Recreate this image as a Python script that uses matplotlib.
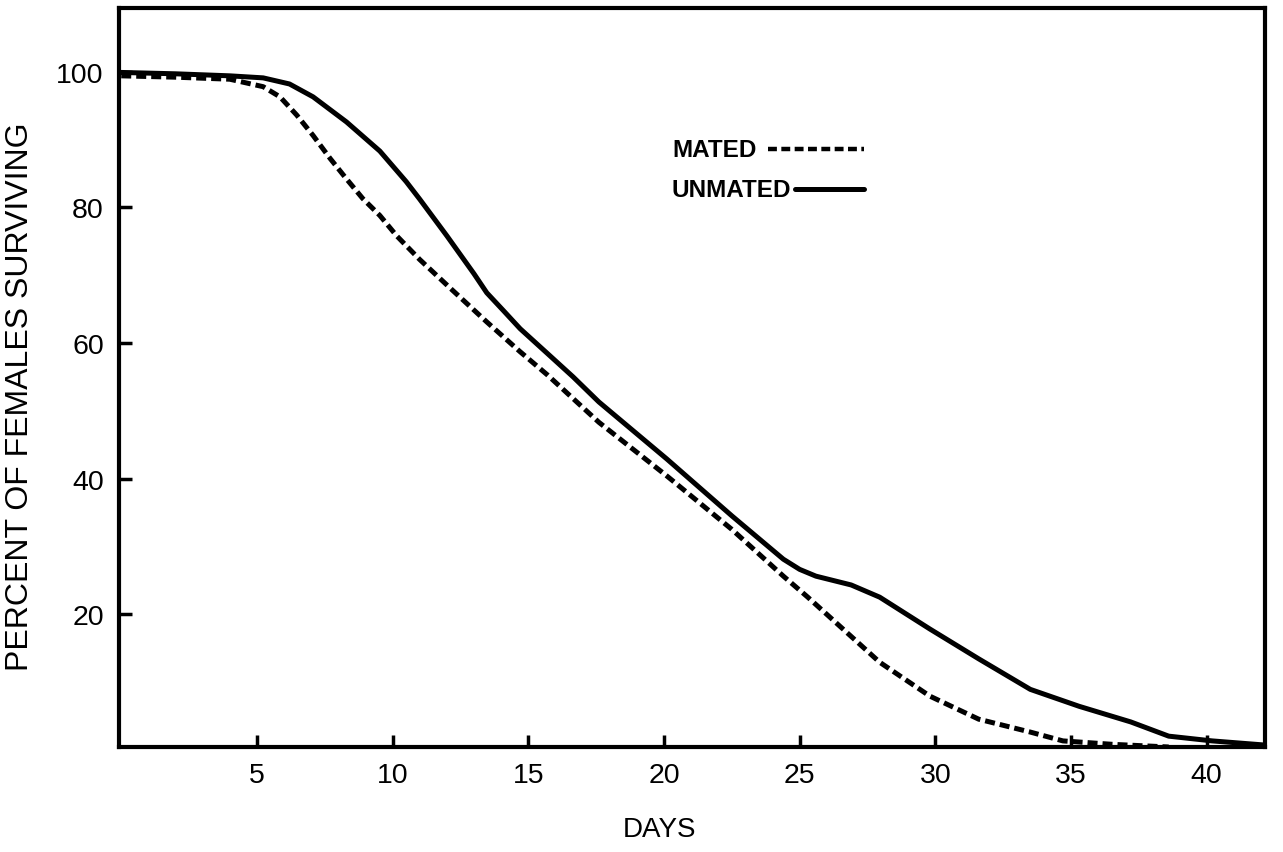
import matplotlib
matplotlib.use("Agg")
import matplotlib.pyplot as plt

# ---- data ----
days_mated = [0, 2, 4.0, 5.23, 5.85, 6.47, 7.07, 7.7, 8.3, 8.9, 9.53, 10.15, 11.0,
              12.2, 13.47, 14.7, 15.7, 17.6, 20.1, 22.5, 24.4, 25.3, 27.95, 29.8,
              31.6, 33.5, 34.7, 36.5, 38.6]
pct_mated = [99.4, 99.2, 98.9, 97.8, 96.3, 93.6, 90.6, 87.2, 84.2, 81.3, 78.8, 75.8,
             72.3, 67.8, 63.1, 58.7, 55.3, 48.3, 40.4, 32.5, 25.6, 22.5, 12.9, 7.9,
             4.5, 2.6, 1.3, 0.8, 0.4]

days_unmated = [0, 2, 4.0, 5.23, 6.2, 7.07, 8.3, 9.53, 10.5, 11.0, 12.0, 13.0, 13.47,
                14.1, 14.7, 15.8, 16.65, 17.6, 20.1, 22.5, 24.4, 25.0, 25.6, 26.9,
                27.95, 29.8, 31.6, 33.5, 35.3, 37.2, 38.6, 40.2, 42.1]
pct_unmated = [99.9, 99.7, 99.4, 99.1, 98.2, 96.3, 92.6, 88.3, 83.8, 81.2, 75.8, 70.2,
               67.4, 64.7, 62.1, 58.1, 55.0, 51.3, 42.9, 34.5, 28.1, 26.6, 25.6, 24.3,
               22.5, 17.8, 13.4, 8.9, 6.4, 4.1, 2.0, 1.3, 0.7]

xticks = [5, 10, 15, 20, 25, 30, 35, 40]
yticks = [20, 40, 60, 80, 100]

plt.rcParams['font.family'] = ['Liberation Sans', 'DejaVu Sans']

fig = plt.figure(figsize=(12.83, 8.53), dpi=100)
ax = fig.add_axes([0.0928, 0.1231, 0.8932, 0.8663])

ax.plot(days_mated, pct_mated, color='black', lw=3.6, linestyle=(0, (2.0, 1.0)),
        dash_capstyle='butt', solid_joinstyle='round', dash_joinstyle='round')
ax.plot(days_unmated, pct_unmated, color='black', lw=3.6, solid_capstyle='round',
        solid_joinstyle='round')

ax.set_xlim(-0.08, 42.15)
ax.set_ylim(0.4, 109.4)
ax.set_xticks(xticks)
ax.set_yticks(yticks)
ax.tick_params(direction='in', length=9, width=2.5, labelsize=20.5, pad=11)
for s in ax.spines.values():
    s.set_linewidth(3)

ax.set_xlabel('DAYS', fontsize=20)
ax.xaxis.set_label_coords(0.472, -0.094)
ax.set_ylabel('PERCENT OF FEMALES SURVIVING', fontsize=23)
ax.yaxis.set_label_coords(-0.073, 0.475)

# legend drawn as text + sample lines
ax.text(0.483, 0.809, 'MATED', transform=ax.transAxes, fontsize=17.5,
        fontweight='bold', va='center', ha='left')
ax.text(0.482, 0.755, 'UNMATED', transform=ax.transAxes, fontsize=17.5,
        fontweight='bold', va='center', ha='left')
ax.plot([0.566, 0.650], [0.809, 0.809], transform=ax.transAxes, color='black',
        lw=3.2, linestyle=(0, (2.0, 1.0)))
ax.plot([0.590, 0.650], [0.755, 0.755], transform=ax.transAxes, color='black',
        lw=3.6, solid_capstyle='round')

fig.savefig('out.png', dpi=100)
